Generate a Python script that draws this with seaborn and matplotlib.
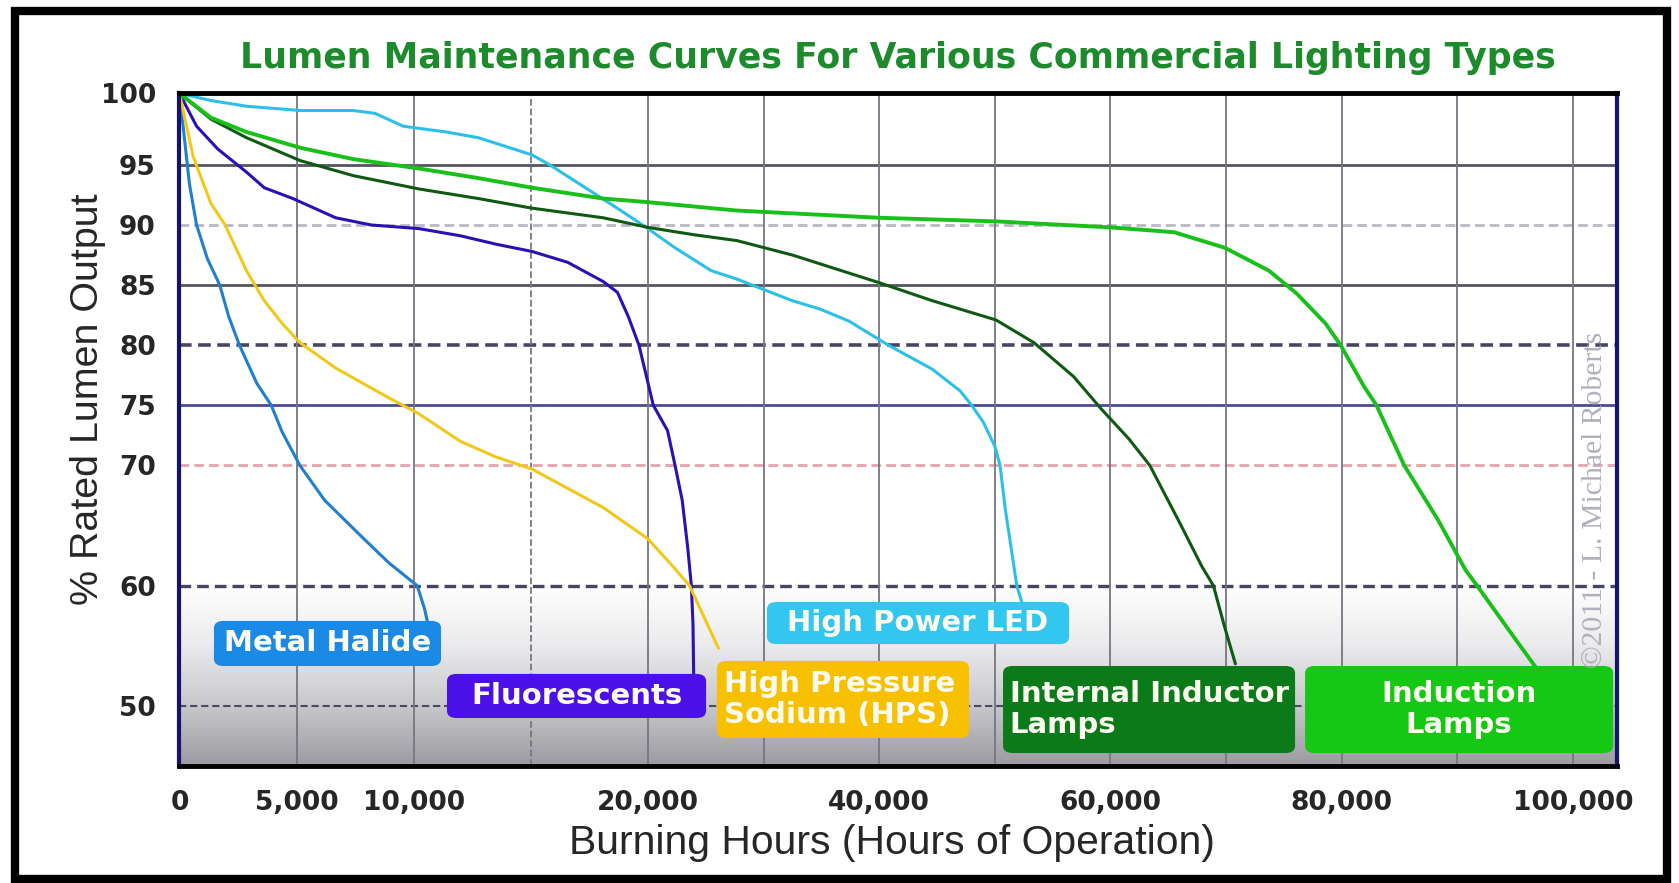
import numpy as np
import pandas as pd
import matplotlib
matplotlib.use("Agg")
import matplotlib.pyplot as plt
import seaborn as sns
from matplotlib.patches import Rectangle, FancyBboxPatch

# Data (burning hours, % rated lumen output)
mh_hours = [0, 425, 730, 1190, 1720, 2100, 2560, 3310, 3920, 4380, 5140, 6200,
            7870, 8940, 10150, 10460, 10610]
mh_pct = [100, 93.4, 90, 87.2, 85, 82.4, 80, 76.8, 75, 72.8, 70, 67.1,
          63.9, 61.9, 60, 58.1, 56.8]

fl_hours = [0, 730, 1640, 2860, 3620, 4840, 6670, 8190, 10220, 12000, 13520, 15050,
            16570, 18090, 18700, 19160, 19620, 20470, 21700, 22350, 22970, 23440,
            23760, 23900, 23970]
fl_pct = [100, 97.7, 96.1, 94.4, 93.1, 92.2, 90.6, 90, 89.7, 89.1, 88.4, 87.8,
          86.9, 85.3, 84.4, 82.4, 80, 75, 72.9, 70, 67.1, 63.2,
          60, 56.8, 51.8]

hps_hours = [0, 580, 1340, 1950, 2860, 3620, 4390, 5150, 6670, 8960, 10220, 12000,
             13520, 15050, 16570, 18090, 20000, 22350, 23600, 24850, 26100]
hps_pct = [100, 95.6, 91.8, 90, 86.2, 83.7, 81.8, 80.2, 78.1, 75.6, 74.3, 72.0,
           70.7, 69.7, 68.1, 66.5, 63.9, 61.4, 60, 57.4, 54.8]

led_hours = [0, 1340, 2860, 5150, 7430, 8350, 9560, 11390, 12760, 15050, 15810,
             17330, 18850, 20000, 22350, 25480, 27700, 32500, 34900, 37400, 40800,
             44600, 47000, 48000, 49000, 50000, 50450, 50900, 51400, 51900, 52400]
led_pct = [100, 99.5, 99.1, 98.8, 98.8, 98.6, 97.7, 97.3, 96.9, 95.7, 95,
           93.1, 91.2, 89.7, 88.1, 86.2, 85.5, 83.7, 83.0, 82.0, 80,
           78.0, 76.2, 75, 73.6, 71.6, 70, 66.4, 63.2, 60, 58.4]

iil_hours = [0, 1340, 2860, 5150, 7430, 10220, 12760, 15050, 18090, 20000, 23900,
             27700, 32500, 40000, 44600, 50100, 53400, 56800, 59200, 61600, 63400,
             66000, 67900, 68900, 69800, 70800]
iil_pct = [100, 98.2, 96.9, 95.3, 94.1, 93.0, 92.2, 91.4, 90.6, 89.8, 89.2,
           88.7, 87.5, 85.2, 83.7, 82.1, 80.2, 77.4, 74.7, 72.2, 70,
           65.2, 61.6, 60, 56.8, 53.5]

ind_hours = [0, 1340, 2860, 5150, 7430, 10220, 12760, 15050, 18090, 20000, 27700,
             40000, 50100, 60000, 65500, 69900, 73700, 76100, 78600, 79900, 81900,
             83000, 84200, 85400, 88300, 90700, 91700, 94600, 97000]
ind_pct = [100, 98.3, 97.3, 96.2, 95.4, 94.7, 93.9, 93.1, 92.2, 91.9, 91.2,
           90.6, 90.3, 89.8, 89.4, 88.1, 86.2, 84.3, 81.8, 80, 76.6,
           75, 72.5, 70, 65.5, 61.3, 60, 56.1, 52.9]

categories = ["Metal Halide", "Fluorescents", "High Pressure Sodium (HPS)",
              "High Power LED", "Internal Inductor Lamps", "Induction Lamps"]
series_hours = [mh_hours, fl_hours, hps_hours, led_hours, iil_hours, ind_hours]
series_pct = [mh_pct, fl_pct, hps_pct, led_pct, iil_pct, ind_pct]
box_texts = ["Metal Halide", "Fluorescents", "High Pressure\nSodium (HPS)",
             "High Power LED", "Internal Inductor\nLamps", "Induction\nLamps"]

x_ticks = [0, 5000, 10000, 20000, 40000, 60000, 80000, 100000]
x_tick_labels = ["0", "5,000", "10,000", "20,000", "40,000", "60,000", "80,000", "100,000"]
x_minor = [15000, 30000, 50000, 70000, 90000]
y_ticks = [50, 60, 70, 75, 80, 85, 90, 95, 100]

line_colors = ["#1f7fd0", "#2b10b4", "#f2c81a", "#2cc0e8", "#0e5a12", "#19c019"]
box_colors = ["#1a8ae6", "#4b10e8", "#f7c000", "#33c6ef", "#0b7a18", "#14c814"]

rows = []
for cat, hrs, pct in zip(categories, series_hours, series_pct):
    for h, p in zip(hrs, pct):
        rows.append({"hours": h, "pct": p, "type": cat})
df = pd.DataFrame(rows)

# piecewise-linear axis scales, as in the original chart
X_BRK, X_POS = [0, 20000, 110000], [0, 4.05, 13.05]
Y_BRK, Y_POS = [40, 95, 105], [40, 95, 95 + 10 * 1.19]


def fx(v):
    return np.interp(v, X_BRK, X_POS)


def fx_inv(v):
    return np.interp(v, X_POS, X_BRK)


def fy(v):
    return np.interp(v, Y_BRK, Y_POS)


def fy_inv(v):
    return np.interp(v, Y_POS, Y_BRK)


sns.set_style("white")
plt.rcParams["font.family"] = ["DejaVu Sans"]

fig = plt.figure(figsize=(16.79, 8.83), dpi=100)
ax = fig.add_axes([0.1069, 0.1325, 0.8562, 0.7626])
ax.set_xscale("function", functions=(fx, fx_inv))
ax.set_yscale("function", functions=(fy, fy_inv))

# grey gradient at the bottom of the plot area
grad = np.linspace(0, 1, 256).reshape(-1, 1)
cmap = matplotlib.colors.LinearSegmentedColormap.from_list(
    "g", ["#9a9aa0", "#c8c8cc", "#ebebed", "#ffffff"])
ax.imshow(grad, extent=[0, 1, 0, 0.27], transform=ax.transAxes, origin="lower",
          aspect="auto", cmap=cmap, zorder=0)

# grid lines
hgrid = {95: ("-", "#55555f", 2.0), 90: ("--", "#b8b8c8", 2.0), 85: ("-", "#55555f", 2.0),
         80: ("--", "#464662", 2.6), 75: ("-", "#4c4c92", 2.0), 70: ("--", "#e4a4ac", 2.0),
         60: ("--", "#464662", 2.4), 50: ("--", "#4a4a64", 1.5)}
for yv, (ls, c, lw) in hgrid.items():
    if ls == "--":
        ax.axhline(yv, color=c, lw=lw, zorder=1, dashes=(3.5, 1.8))
    else:
        ax.axhline(yv, color=c, lw=lw, zorder=1)
for xv in x_ticks[1:] + x_minor:
    ax.axvline(xv, ls="--" if xv == 15000 else "-", color="#767684", lw=1.3, zorder=1)

sns.lineplot(data=df, x="hours", y="pct", hue="type", palette=line_colors, estimator=None,
             sort=False, linewidth=2.2, legend=False, ax=ax, zorder=3)
ax.lines[-1].set_linewidth(2.8)

ax.set_xlim(0, 103800)
ax.set_ylim(45, 100.05)
ax.set_xticks(x_ticks)
ax.set_xticklabels(x_tick_labels)
ax.set_xticks(x_minor, minor=True)
ax.set_yticks(y_ticks)
ax.set_yticklabels([str(v) for v in y_ticks])
ax.tick_params(axis="x", which="both", length=11, width=1.3, color="#767684", pad=6)
ax.tick_params(axis="y", which="both", length=14, width=1.6, color="#55555f", pad=3)
for lab in ax.get_xticklabels() + ax.get_yticklabels():
    lab.set_fontsize(19)
    lab.set_fontweight("bold")
ax.set_xlabel("")
ax.set_ylabel("")

for side, c, w in [("top", "#000000", 3.5), ("bottom", "#000000", 3.5),
                   ("left", "#14146e", 3.0), ("right", "#14146e", 3.0)]:
    ax.spines[side].set_color(c)
    ax.spines[side].set_linewidth(w)
    ax.spines[side].set_zorder(5)

# curve name boxes (axes fraction: x0, y0, w, h, text alignment)
box_geom = [(0.0247, 0.150, 0.1565, 0.0639, "center"),
            (0.1868, 0.0728, 0.1788, 0.0624, "center"),
            (0.3746, 0.0431, 0.1739, 0.1114, "left"),
            (0.4094, 0.1826, 0.2087, 0.0594, "center"),
            (0.5736, 0.0208, 0.2017, 0.1262, "left"),
            (0.7837, 0.0208, 0.2129, 0.1262, "center")]
for txt, bc, (x0, y0, w, h, al) in zip(box_texts, box_colors, box_geom):
    ax.add_patch(FancyBboxPatch((x0, y0), w, h, boxstyle="round,pad=0,rounding_size=0.006",
                                transform=ax.transAxes, fc=bc, ec=bc, lw=1.5, zorder=6,
                                mutation_aspect=1.5))
    tx = x0 + w / 2 if al == "center" else x0 + 0.004
    ax.text(tx, y0 + h / 2, txt, transform=ax.transAxes, ha=al, va="center",
            multialignment=al, color="#fbfbf0", fontsize=21, fontweight="bold",
            linespacing=1.12, zorder=7)

fig.canvas.draw()
renderer = fig.canvas.get_renderer()


def fit(t, target_px, vertical=False):
    bb = t.get_window_extent(renderer)
    size = bb.height if vertical else bb.width
    t.set_fontsize(t.get_fontsize() * target_px / size)


wm = fig.text(1595 / 1679, 1 - 500 / 883, "\u00a92011 - L. Michael Roberts", rotation=90,
              ha="center", va="center", fontsize=15, color="#b0b0be", family="Liberation Serif",
              zorder=4)
fit(wm, 337, vertical=True)

title = fig.text(898 / 1679, 1 - 58 / 883,
                 "Lumen Maintenance Curves For Various Commercial Lighting Types",
                 ha="center", va="center", fontsize=23, fontweight="bold", color="#1d8a2c")
fit(title, 1320)
ylab = fig.text(88 / 1679, 1 - 399 / 883, "% Rated Lumen Output", rotation=90,
                ha="center", va="center", fontsize=25, family="Liberation Sans")
fit(ylab, 412, vertical=True)
xlab = fig.text(892 / 1679, 1 - 843 / 883, "Burning Hours (Hours of Operation)",
                ha="center", va="center", fontsize=25, family="Liberation Sans")
fit(xlab, 647)

# black frame round the whole picture
fig.patches.append(Rectangle((0.009, 0.004), 0.984, 0.984, transform=fig.transFigure,
                             fill=False, ec="black", lw=6))

fig.savefig("out.png", dpi=100)
